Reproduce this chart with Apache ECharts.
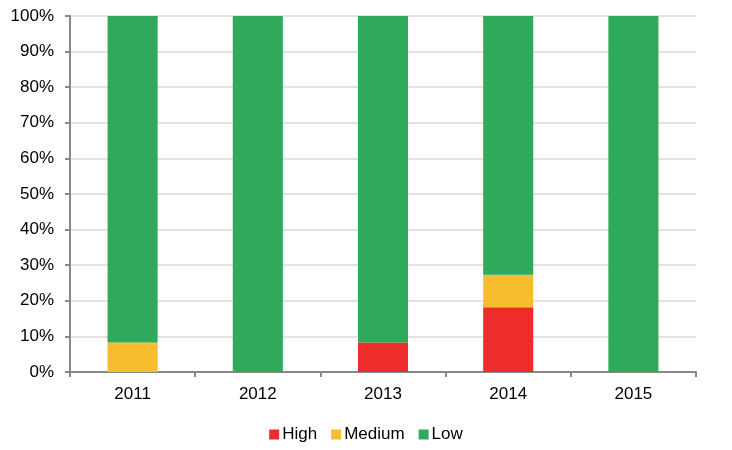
<!DOCTYPE html>
<html>
<head>
<meta charset="UTF-8">
<title>Risk levels by year</title>
<style>html,body{margin:0;padding:0;background:#fff;}</style>
</head>
<body>
<div id="main" style="width:732px;height:450px;"></div>
<script src="https://cdn.jsdelivr.net/npm/echarts@6/dist/echarts.min.js"></script>
<script>
var years = ['2011', '2012', '2013', '2014', '2015'];
var high = [0, 0, 8.3, 18.2, 0];
var medium = [8.3, 0, 0, 9.1, 0];
var low = [91.7, 100, 91.7, 72.7, 100];

var chart = echarts.init(document.getElementById('main'));
var font = 'Liberation Sans, Arial, sans-serif';
function bar(name, data, color) {
	return {
		name: name,
		type: 'bar',
		stack: 'total',
		barWidth: '40%',
		data: data,
		itemStyle: { color: color },
		emphasis: { disabled: true }
	};
}
chart.setOption({
	animation: false,
	textStyle: { fontFamily: font },
	grid: { left: 70, right: 36, top: 16, bottom: 78 },
	legend: {
		bottom: 2,
		left: 'center',
		icon: 'rect',
		itemWidth: 10,
		itemHeight: 10,
		itemGap: 14,
		textStyle: { fontSize: 17, color: '#000', fontFamily: font, padding: [0, 0, 0, -2] },
		data: ['High', 'Medium', 'Low']
	},
	xAxis: {
		type: 'category',
		data: years,
		axisLine: { lineStyle: { color: '#888', width: 2 } },
		axisTick: { show: true, alignWithLabel: false, length: 5, lineStyle: { color: '#888', width: 2 } },
		axisLabel: { color: '#000', fontSize: 17, margin: 14 }
	},
	yAxis: {
		type: 'value',
		min: 0,
		max: 100,
		interval: 10,
		axisLine: { show: true, lineStyle: { color: '#888', width: 2 } },
		axisTick: { show: true, length: 5, lineStyle: { color: '#888', width: 2 } },
		axisLabel: { color: '#000', fontSize: 17, margin: 16, formatter: '{value}%' },
		splitLine: { lineStyle: { color: '#d9d9d9', width: 1.5 } }
	},
	series: [
		bar('High', high, '#ee2c2c'),
		bar('Medium', medium, '#f7bd2f'),
		bar('Low', low, '#2eaa5a')
	]
});
</script>
</body>
</html>
